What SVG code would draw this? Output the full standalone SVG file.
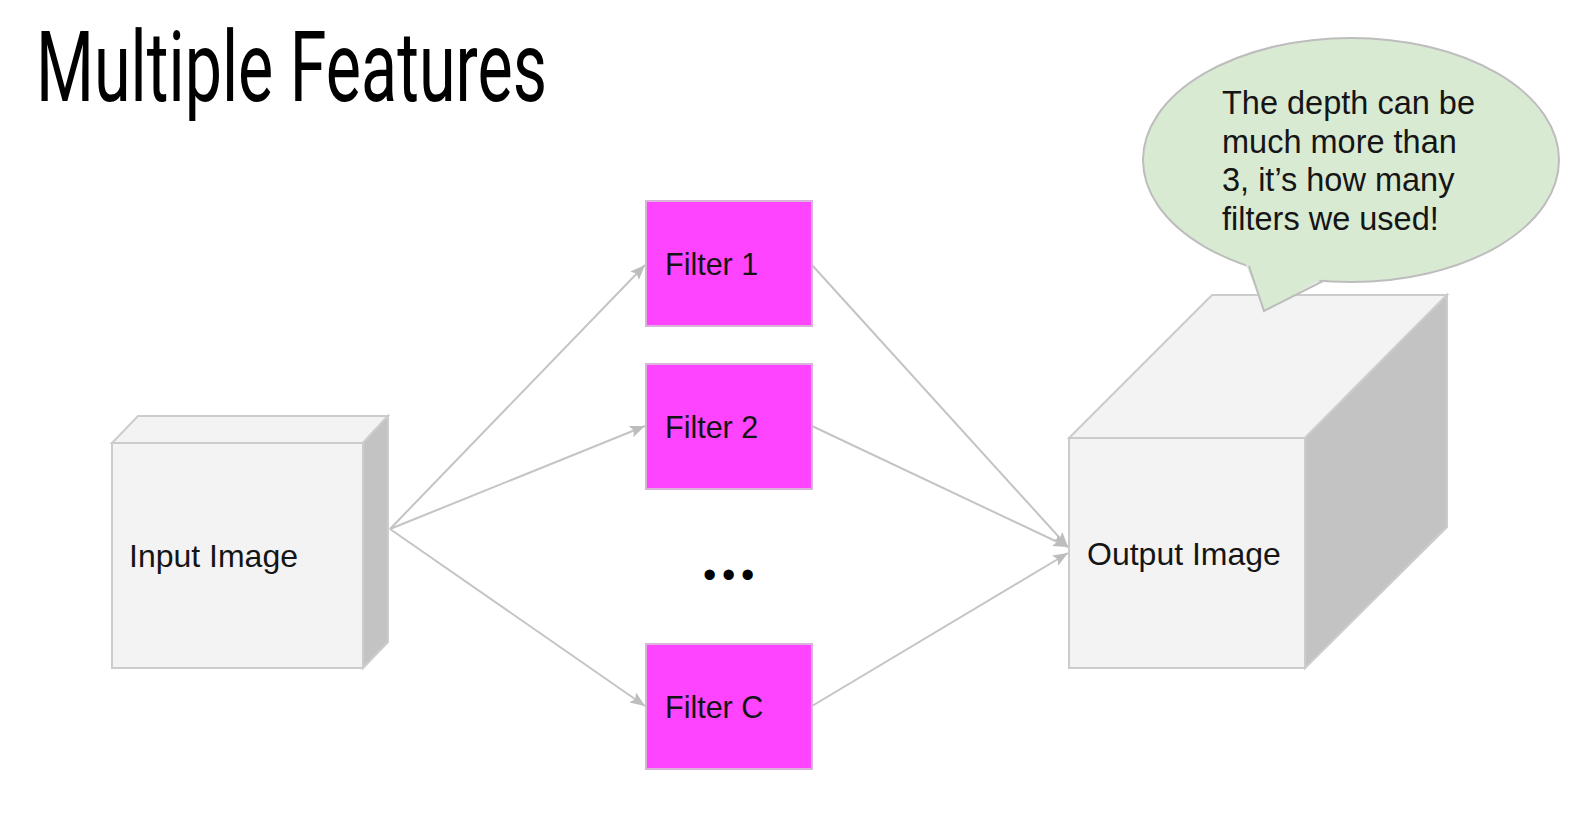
<svg xmlns="http://www.w3.org/2000/svg" width="1587" height="836" viewBox="0 0 1587 836">
<style>
.face{fill:#f3f3f3;stroke:#cccccc;stroke-width:2}
.side{fill:#c3c3c3;stroke:#cccccc;stroke-width:2}
.filter{fill:#ff44ff;stroke:#d9b3d9;stroke-width:2}
.lbl{font-family:"Liberation Sans",Arial,sans-serif;fill:#151515}
.conn{stroke:#c4c4c4;stroke-width:2;fill:none;marker-end:url(#arr)}
</style>
<defs>
<marker id="arr" markerUnits="userSpaceOnUse" markerWidth="16" markerHeight="12" refX="15" refY="6" orient="auto">
<path d="M0,0 L15,6 L0,12 L3,6 z" fill="#bdbdbd"/>
</marker>
</defs>
<rect width="1587" height="836" fill="#ffffff"/>
<text x="36" y="101" font-family="Roboto,'DejaVu Sans',sans-serif" font-size="99" fill="#000" textLength="511" lengthAdjust="spacingAndGlyphs">Multiple Features</text>

<g id="connectors">
<line class="conn" x1="390" y1="529" x2="645" y2="265"/>
<line class="conn" x1="390" y1="529" x2="645" y2="426"/>
<line class="conn" x1="390" y1="529" x2="645" y2="706"/>
<line class="conn" x1="812" y1="265" x2="1068" y2="547"/>
<line class="conn" x1="812" y1="426" x2="1068" y2="547"/>
<line class="conn" x1="812" y1="706" x2="1068" y2="553"/>
</g>

<g id="input-image">
<polygon class="face" points="112,443 138,416 388,416 363,443"/>
<polygon class="side" points="363,443 388,416 388,642 363,668"/>
<rect class="face" x="112" y="443" width="251" height="225"/>
<text class="lbl" x="129" y="567" font-size="32">Input Image</text>
</g>

<g id="filter-1">
<rect class="filter" x="646" y="201" width="166" height="125"/>
<text class="lbl" x="665" y="275" font-size="30.5">Filter 1</text>
</g>
<g id="filter-2">
<rect class="filter" x="646" y="364" width="166" height="125"/>
<text class="lbl" x="665" y="438" font-size="30.5">Filter 2</text>
</g>
<g id="ellipsis">
<text x="703" y="588" font-family="'Liberation Sans',Arial,sans-serif" font-size="38" letter-spacing="5.7" fill="#000">•••</text>
</g>
<g id="filter-c">
<rect class="filter" x="646" y="644" width="166" height="125"/>
<text class="lbl" x="665" y="718" font-size="30.5">Filter C</text>
</g>

<g id="output-image">
<polygon class="face" points="1069,438 1212,295 1447,295 1305,438"/>
<polygon class="side" points="1305,438 1447,295 1447,527 1305,668"/>
<rect class="face" x="1069" y="438" width="236" height="230"/>
<text class="lbl" x="1087" y="565" font-size="32">Output Image</text>
</g>

<g id="callout">
<ellipse cx="1351" cy="160" rx="208" ry="122" fill="#d9ead3" stroke="#bdbdbd" stroke-width="2"/>
<polygon points="1245,262 1264,311 1326,277 1290,255" fill="#d9ead3"/>
<polyline points="1249,266 1264,311 1323,281" fill="none" stroke="#bdbdbd" stroke-width="2"/>
<text class="lbl" font-size="32.5">
<tspan x="1222" y="114">The depth can be</tspan>
<tspan x="1222" y="152.5">much more than</tspan>
<tspan x="1222" y="191">3, it’s how many</tspan>
<tspan x="1222" y="229.5">filters we used!</tspan>
</text>
</g>
</svg>
